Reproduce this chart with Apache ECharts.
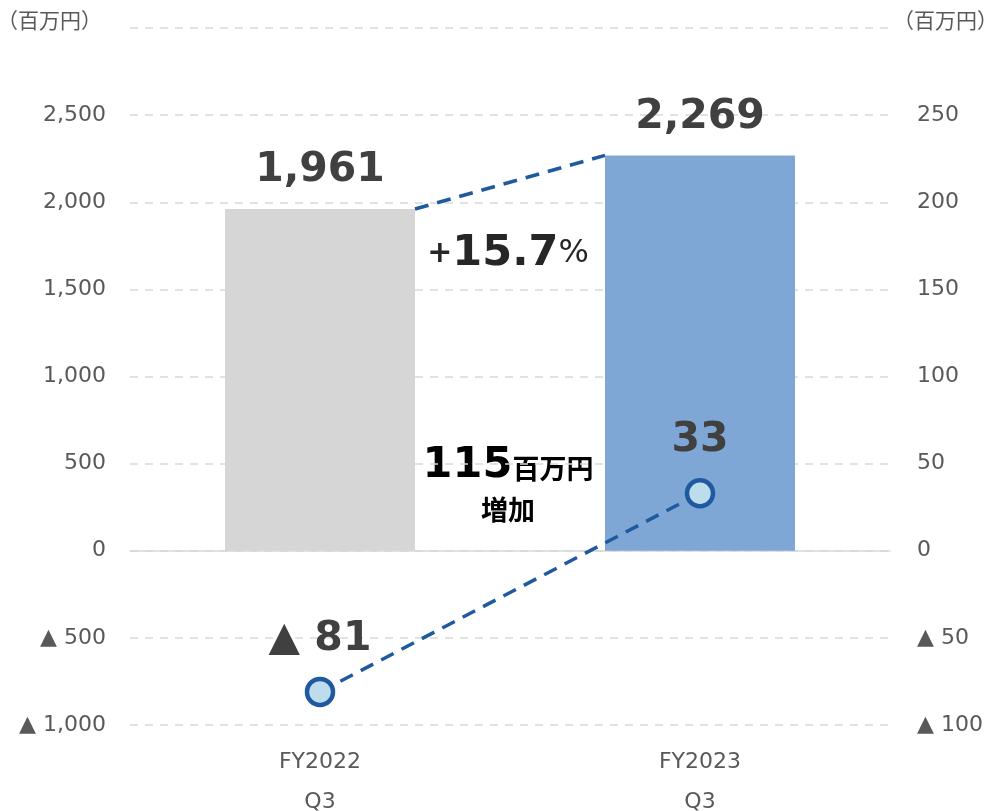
<!DOCTYPE html>
<html>
<head>
<meta charset="utf-8">
<title>売上高・営業利益</title>
<script src="https://cdn.jsdelivr.net/npm/echarts@6/dist/echarts.min.js"></script>
<style>
 html, body { margin: 0; padding: 0; background: #fff; }
 #main { width: 997px; height: 811px; }
</style>
</head>
<body>
<div id="main"></div>
<script>
/** データ **/
var categories = ['FY2022\nQ3', 'FY2023\nQ3'];
var salesValues = [1961, 2269];     // 売上高（左軸）
var profitValues = [-81, 33];       // 営業利益（右軸）
var leftRange = [-1000, 3000, 500];
var rightRange = [-100, 300, 50];
var unitLabel = '（百万円）';
var growthText = ['+', '15.7', '%'];
var diffText = ['115', '百万円', '増加'];

var numFont = '"DejaVu Sans", "Noto Sans CJK JP", sans-serif';
var jpFont = '"Noto Sans CJK JP", sans-serif';
var gray = '#595959';
var dark = '#404040';
var blue = '#1F5AA0';

/** ▲ 表記 **/
function tri(v) {
 var s = echarts.format.addCommas(Math.abs(v));
 return v < 0 ? '▲ ' + s : s;
}

var chart = echarts.init(document.getElementById('main'));

var option = {
 animation: false,
 grid: {
  left: 130,
  right: 107,
  top: 28,
  height: 697,
  containLabel: false,
  outerBoundsMode: 'none'
 },
 xAxis: {
  type: 'category',
  data: categories,
  axisTick: { show: false },
  axisLine: { lineStyle: { color: '#D9D9D9', width: 1.5 } },
  axisLabel: {
   color: gray,
   fontSize: 22,
   fontFamily: numFont,
   lineHeight: 40,
   margin: 17
  }
 },
 yAxis: [
  {
   type: 'value',
   min: leftRange[0],
   max: leftRange[1],
   interval: leftRange[2],
   axisLabel: {
    color: gray,
    fontSize: 22,
    fontFamily: numFont,
    margin: 24,
    formatter: function (v) {
     return v === leftRange[1] ? '' : tri(v);
    }
   },
   splitLine: { lineStyle: { color: '#D9D9D9', type: [8, 7], width: 1.5 } }
  },
  {
   type: 'value',
   min: rightRange[0],
   max: rightRange[1],
   interval: rightRange[2],
   axisLabel: {
    color: gray,
    fontSize: 22,
    fontFamily: numFont,
    margin: 27,
    formatter: function (v) {
     return v === rightRange[1] ? '' : tri(v);
    }
   },
   splitLine: { show: false }
  }
 ],
 graphic: [
  {
   type: 'text', left: -3, top: 10,
   style: { text: unitLabel, fill: gray, font: '21px ' + jpFont }
  },
  {
   type: 'text', right: -1, top: 10,
   style: { text: unitLabel, fill: gray, font: '21px ' + jpFont }
  },
  {
   type: 'text', x: 508, y: 254,
   style: {
    text: '{a|' + growthText[0] + '}{b|' + growthText[1] + '}{c|' + growthText[2] + '}',
    align: 'center', verticalAlign: 'middle',
    rich: {
     a: { fontSize: 30, fontWeight: 'bold', fill: '#262626', fontFamily: numFont },
     b: { fontSize: 43, fontWeight: 'bold', fill: '#262626', fontFamily: numFont },
     c: { fontSize: 32, fill: '#262626', fontFamily: numFont }
    }
   }
  },
  {
   type: 'text', x: 508, y: 466,
   style: {
    text: '{a|' + diffText[0] + '}{b|' + diffText[1] + '}',
    align: 'center', verticalAlign: 'middle',
    rich: {
     a: { fontSize: 43, fontWeight: 'bold', fill: '#000', fontFamily: numFont },
     b: { fontSize: 27, fontWeight: 'bold', fill: '#000', fontFamily: jpFont, padding: [6, 0, 0, 0] }
    }
   }
  },
  {
   type: 'text', x: 508, y: 510,
   style: {
    text: diffText[2], fill: '#000',
    align: 'center', verticalAlign: 'middle',
    font: 'bold 27px ' + jpFont
   }
  }
 ],
 series: [
  {
   name: '売上高',
   type: 'bar',
   barWidth: '50%',
   data: salesValues.map(function (v, i) {
    return { value: v, itemStyle: { color: i === 0 ? '#D6D6D6' : '#7EA7D5' } };
   }),
   label: {
    show: true,
    position: 'top',
    distance: 18,
    color: dark,
    fontSize: 41,
    fontWeight: 'bold',
    fontFamily: numFont,
    formatter: function (p) { return tri(p.value); }
   }
  },
  {
   // 棒の上端をつなぐ点線
   name: '連結線',
   type: 'custom',
   encode: { x: [0, 2], y: [1, 3] },
   data: [[0, salesValues[0], 1, salesValues[1]]],
   z: 5,
   renderItem: function (params, api) {
    var p0 = api.coord([api.value(0), api.value(1)]);
    var p1 = api.coord([api.value(2), api.value(3)]);
    var half = api.size([1, 0])[0] * 0.25;
    return {
     type: 'line',
     shape: { x1: p0[0] + half, y1: p0[1], x2: p1[0] - half, y2: p1[1] },
     style: { stroke: blue, lineWidth: 3.5, lineDash: [14, 9] }
    };
   }
  },
  {
   name: '営業利益',
   type: 'line',
   yAxisIndex: 1,
   data: profitValues,
   symbol: 'circle',
   symbolSize: 26,
   z: 6,
   lineStyle: { color: blue, width: 3.5, type: [14, 9] },
   itemStyle: { color: '#BDDCEC', borderColor: blue, borderWidth: 4.5 },
   label: {
    show: true,
    position: 'top',
    distance: 17,
    color: dark,
    fontSize: 41,
    fontWeight: 'bold',
    fontFamily: numFont,
    formatter: function (p) { return tri(p.value); }
   }
  }
 ]
};

chart.setOption(option);
</script>
</body>
</html>
